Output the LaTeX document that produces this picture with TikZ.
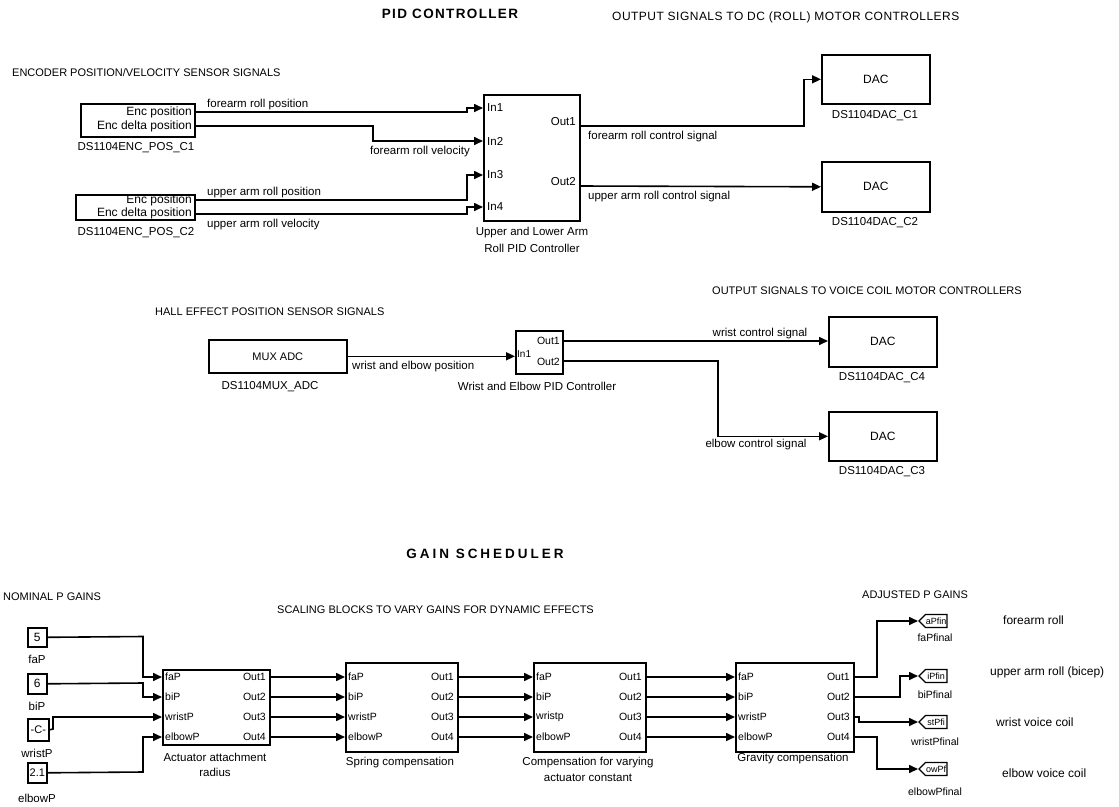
\documentclass[tikz,border=0pt]{standalone}
\usepackage{fontspec}
\setmainfont{Liberation Sans}
\newfontfamily\ttlfont[LetterSpace=10]{Liberation Sans}
\newfontfamily\gsfont[LetterSpace=22]{Liberation Sans}
\newfontfamily\hdfont[LetterSpace=4]{Liberation Sans}
\usetikzlibrary{arrows.meta,shapes.symbols}
\begin{document}
\begin{tikzpicture}[x=1pt,y=-1pt,
 blk/.style={draw, line width=1.6pt, inner sep=0pt, anchor=north west, font=\fontsize{12}{13}\selectfont},
 arr/.style={line width=1.6pt,-{Triangle[length=9pt,width=8pt]}},
 lbl/.style={inner sep=0pt, font=\fontsize{11.5}{13}\selectfont},
 prt/.style={inner sep=0pt, font=\fontsize{11.5}{13}\selectfont},
 gprt/.style={inner sep=0pt, font=\fontsize{10.5}{12}\selectfont},
 hdr/.style={inner sep=0pt, anchor=west, font=\fontsize{11}{13}\selectfont},
 rgt/.style={inner sep=0pt, anchor=west, font=\fontsize{12}{14}\selectfont},
 tag/.style={draw, line width=1.3pt, shape=signal, signal to=west, minimum width=28pt, minimum height=13pt, inner sep=0.5pt, font=\fontsize{9}{10}\selectfont, anchor=west}
]
\useasboundingbox (0,0) rectangle (1119,806);

% ---------------- titles and headings
\node[inner sep=0pt, font=\ttlfont\bfseries\fontsize{13.5}{15}\selectfont] (t1) at (450,14) {PID CONTROLLER};
\node[inner sep=0pt, anchor=west, font=\hdfont\fontsize{12}{14}\selectfont] (h1) at (612,17) {OUTPUT SIGNALS TO DC (ROLL) MOTOR CONTROLLERS};
\node[hdr] (h2) at (12,73) {ENCODER POSITION/VELOCITY SENSOR SIGNALS};
\node[hdr] (h3) at (155,312) {HALL EFFECT POSITION SENSOR SIGNALS};
\node[hdr] (h4) at (712,291) {OUTPUT SIGNALS TO VOICE COIL MOTOR CONTROLLERS};
\node[inner sep=0pt, font=\gsfont\bfseries\fontsize{13.5}{15}\selectfont] (t2) at (485,554) {GAIN SCHEDULER};
\node[hdr] (h5) at (3,597) {NOMINAL P GAINS};
\node[hdr] (h6) at (277,610) {SCALING BLOCKS TO VARY GAINS FOR DYNAMIC EFFECTS};
\node[hdr] (h7) at (862,595) {ADJUSTED P GAINS};

% ---------------- encoder blocks
\node[blk, minimum width=114pt, minimum height=33pt] (enc1) at (80,103) {};
\node[prt, anchor=east, font=\fontsize{12}{13}\selectfont] (e1a) at (192,112) {Enc position};
\node[prt, anchor=east, font=\fontsize{12}{13}\selectfont] (e1b) at (192,126) {Enc delta position};
\node[lbl] (e1n) at (136,148) {DS1104ENC\_POS\_C1};
\coordinate (enc1o1) at (194,112);
\coordinate (enc1o2) at (194,126);

\node[blk, minimum width=119pt, minimum height=25pt] (enc2) at (75,194) {};
\node[prt, anchor=east, font=\fontsize{12}{13}\selectfont] (e2a) at (192,200) {Enc position};
\node[prt, anchor=east, font=\fontsize{12}{13}\selectfont] (e2b) at (192,213) {Enc delta position};
\node[lbl] (e2n) at (136,233) {DS1104ENC\_POS\_C2};
\coordinate (enc2o1) at (194,200);
\coordinate (enc2o2) at (194,214);

% ---------------- roll PID
\node[blk, minimum width=96pt, minimum height=126pt] (pid) at (483,94) {};
\node[prt, anchor=west] (pi1) at (487,108) {In1};
\node[prt, anchor=west] (pi2) at (487,141) {In2};
\node[prt, anchor=west] (pi3) at (487,175) {In3};
\node[prt, anchor=west] (pi4) at (487,207) {In4};
\node[prt, anchor=east] (po1) at (576,122) {Out1};
\node[prt, anchor=east] (po2) at (576,182) {Out2};
\node[lbl] (pn1) at (532,233) {Upper and Lower Arm};
\node[lbl] (pn2) at (532,248) {Roll PID Controller};
\coordinate (pidi1) at (483,108);
\coordinate (pidi2) at (483,141);
\coordinate (pidi3) at (483,175);
\coordinate (pidi4) at (483,207);
\coordinate (pido1) at (579,126);
\coordinate (pido2) at (579,186);

% ---------------- DACs (roll)
\node[blk, minimum width=108pt, minimum height=49pt] (dac1) at (821,54) {DAC};
\node[lbl] (d1n) at (875,116) {DS1104DAC\_C1};
\node[blk, minimum width=108pt, minimum height=50pt] (dac2) at (821,161) {DAC};
\node[lbl] (d2n) at (875,223) {DS1104DAC\_C2};

% wires roll
\draw[arr] (enc1o1) -- (467,112) |- (pidi1);
\draw[arr] (enc1o2) -- (373,126) |- (pidi2);
\draw[arr] (enc2o1) -- (467,200) |- (pidi3);
\draw[arr] (enc2o2) -- (467,214) |- (pidi4);
\draw[arr] (pido1) -- (804,126) |- (dac1.west);
\draw[arr] (pido2) -- (dac2.west);
\node[lbl, anchor=south west] (l1) at (207,110) {forearm roll position};
\node[lbl, anchor=east] (l2) at (470,152) {forearm roll velocity};
\node[lbl, anchor=south west] (l3) at (207,198) {upper arm roll position};
\node[lbl, anchor=west] (l4) at (207,225) {upper arm roll velocity};
\node[lbl, anchor=west] (l5) at (588,137) {forearm roll control signal};
\node[lbl, anchor=west] (l6) at (588,197) {upper arm roll control signal};

% ---------------- hall effect section
\node[blk, minimum width=138pt, minimum height=33pt, font=\fontsize{11}{12}\selectfont] (mux) at (208,339) {MUX ADC};
\node[lbl] (mn) at (270,387) {DS1104MUX\_ADC};
\node[blk, minimum width=47pt, minimum height=43pt] (wep) at (515,330) {};
\node[gprt, anchor=east] (wo1) at (560,341) {Out1};
\node[gprt, anchor=west, font=\fontsize{10}{11}\selectfont] (wi1) at (517,354) {In1};
\node[gprt, anchor=east] (wo2) at (560,362) {Out2};
\node[lbl] (wn) at (537,386) {Wrist and Elbow PID Controller};
\coordinate (wepo1) at (562,341);
\coordinate (wepo2) at (562,361);

\node[blk, minimum width=108pt, minimum height=50pt] (dac4) at (828,316) {DAC};
\node[lbl] (d4n) at (882,378) {DS1104DAC\_C4};
\node[blk, minimum width=108pt, minimum height=49pt] (dac3) at (828,411) {DAC};
\node[lbl] (d3n) at (882,472) {DS1104DAC\_C3};

\draw[arr] (mux.east) -- (mux.east -| wep.west);
\draw[arr] (wepo1) -- (wepo1 -| dac4.west);
\draw[arr] (wepo2) -- (718,361) |- (dac3.west);
\node[lbl, anchor=west] (l7) at (352,367) {wrist and elbow position};
\node[lbl] (l8) at (760,334) {wrist control signal};
\node[lbl] (l9) at (756,445) {elbow control signal};

% ---------------- gain scheduler
\node[blk, minimum width=19pt, minimum height=19pt] (c5) at (27,627) {5};
\node[lbl] (c5n) at (37,659) {faP};
\node[blk, minimum width=19pt, minimum height=20pt] (c6) at (27,673) {6};
\node[lbl] (c6n) at (37,706) {biP};
\node[blk, minimum width=21pt, minimum height=22pt, font=\fontsize{11}{12}\selectfont] (cC) at (27,718) {-C-};
\node[lbl] (cCn) at (37,753) {wristP};
\node[blk, minimum width=19pt, minimum height=20pt, font=\fontsize{11}{12}\selectfont] (c21) at (27,762) {2.1};
\node[lbl] (c21n) at (37,798) {elbowP};

\node[blk, minimum width=107pt, minimum height=75pt] (act) at (162,669) {};
\node[blk, minimum width=112pt, minimum height=89pt] (spr) at (345,662) {};
\node[blk, minimum width=112pt, minimum height=89pt] (cmp) at (533,662) {};
\node[blk, minimum width=118pt, minimum height=89pt] (grv) at (735,662) {};

\foreach \b/\l/\r in {act/162/269, spr/345/457, cmp/533/645, grv/735/853}{
  \foreach \i/\y in {1/677,2/697,3/717,4/737}{
    \coordinate (\b i\i) at (\l,\y);
    \coordinate (\b o\i) at (\r,\y);
    \node[gprt, anchor=east] (\b ol\i) at (\r-3,\y) {Out\i};
  }
}
\foreach \b/\l in {act/162, spr/345, cmp/533, grv/735}{
  \node[gprt, anchor=west] (\b il1) at (\l+3,677) {faP};
  \node[gprt, anchor=west] (\b il2) at (\l+3,697) {biP};
  \node[gprt, anchor=west] (\b il4) at (\l+3,737) {elbowP};
}
\node[gprt, anchor=west] (actil3) at (165,717) {wristP};
\node[gprt, anchor=west] (spril3) at (348,717) {wristP};
\node[gprt, anchor=west] (cmpil3) at (536,717) {wristp};
\node[gprt, anchor=west] (grvil3) at (738,717) {wristP};

\node[lbl] (an1) at (215,757) {Actuator attachment};
\node[lbl] (an2) at (215,772) {radius};
\node[lbl] (sn) at (400,763) {Spring compensation};
\node[lbl] (cn1) at (588,763) {Compensation for varying};
\node[lbl] (cn2) at (588,778) {actuator constant};
\node[lbl] (gn) at (793,759) {Gravity compensation};

\draw[arr] (c5.east) -- (143,636.5) |- (acti1);
\draw[arr] (c6.east) -- (143,683) |- (acti2);
\draw[arr] (cC.east) -- (53,729) |- (acti3);
\draw[arr] (c21.east) -- (143,772) |- (acti4);
\foreach \i in {1,2,3,4}{
  \draw[arr] (acto\i) -- (spri\i);
  \draw[arr] (spro\i) -- (cmpi\i);
  \draw[arr] (cmpo\i) -- (grvi\i);
}

% goto tags
\node[tag] (tag1) at (918,621) {aPfin};
\node[tag] (tag2) at (918,676) {iPfin};
\node[tag] (tag3) at (918,722) {stPfi};
\node[tag] (tag4) at (918,769) {owPf};
\node[gprt] (g1n) at (935,638) {faPfinal};
\node[gprt] (g2n) at (935,695) {biPfinal};
\node[gprt] (g3n) at (935,742) {wristPfinal};
\node[gprt] (g4n) at (935,792) {elbowPfinal};
\draw[arr] (grvo1) -- (877,677) |- (tag1.west);
\draw[arr] (grvo2) -- (900,697) |- (tag2.west);
\draw[arr] (grvo3) -- (859,717) |- (tag3.west);
\draw[arr] (grvo4) -- (877,737) |- (tag4.west);

\node[rgt] (r1) at (1003,620) {forearm roll};
\node[rgt] (r2) at (990,672) {upper arm roll (bicep)};
\node[rgt] (r3) at (996,722) {wrist voice coil};
\node[rgt] (r4) at (1002,773) {elbow voice coil};
\end{tikzpicture}
\end{document}
